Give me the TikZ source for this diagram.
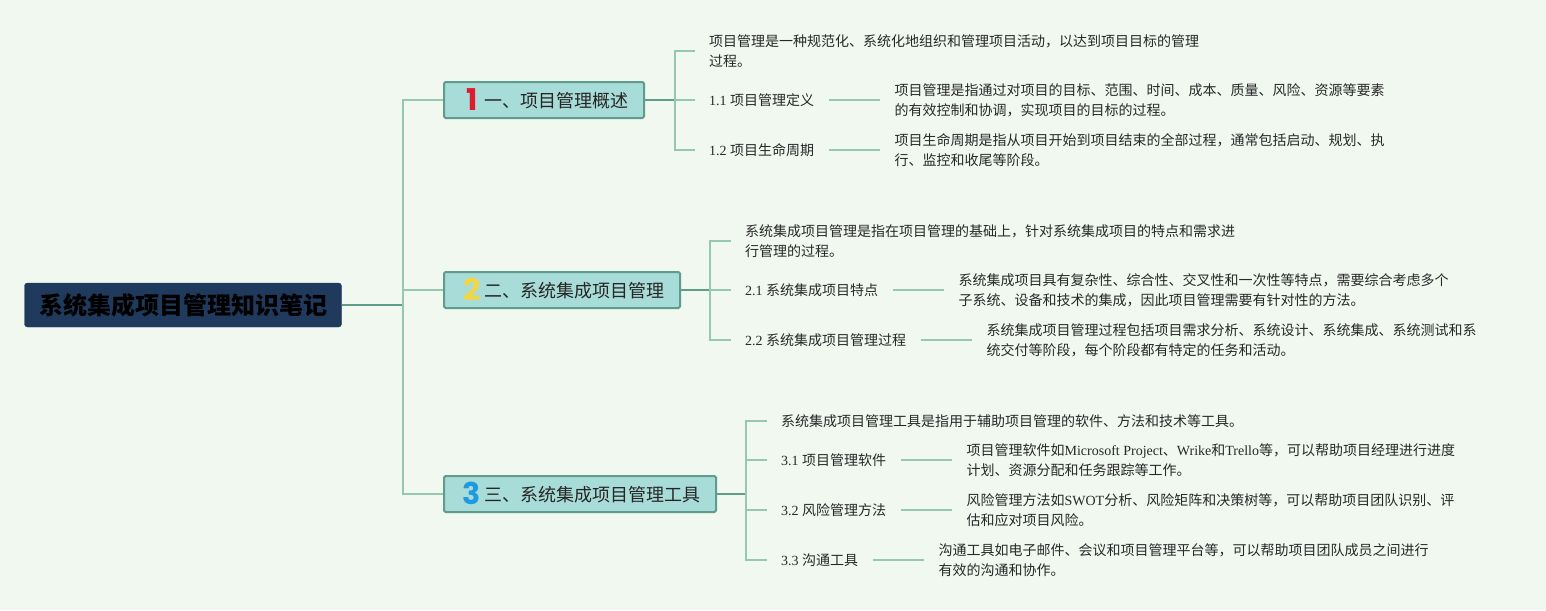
\documentclass[tikz,border=0pt]{standalone}
\usepackage{fontspec}
\setmainfont{Noto Sans CJK SC}
\newfontfamily\enfont{Liberation Serif}
\newfontfamily\numfont{Poppins}
\usetikzlibrary{positioning}
\definecolor{bgColor}{RGB}{240,248,240}
\definecolor{rootColor}{RGB}{31,58,92}
\definecolor{topicColor}{RGB}{168,220,216}
\definecolor{topicBorder}{RGB}{94,156,140}
\definecolor{branchColor}{RGB}{150,200,176}
\definecolor{leafText}{RGB}{40,40,40}
\definecolor{oneColor}{RGB}{222,28,48}
\definecolor{twoColor}{RGB}{244,214,68}
\definecolor{threeColor}{RGB}{30,154,224}
\newcommand{\en}[1]{{\enfont #1}}
\newcommand{\topicnum}[2]{\makebox[24pt][c]{\raisebox{-2.5pt}{\numfont\bfseries\fontsize{30}{30}\selectfont\color{#1}#2}}}
\tikzset{rootbox/.style={fill=rootColor, draw=rootColor, rounded corners=3pt, minimum width=317pt, minimum height=44pt, font=\fontsize{24}{28}\selectfont\bfseries, text=black}}
\tikzset{topic/.style={fill=topicColor, draw=topicBorder, line width=2pt, rounded corners=1.5pt, anchor=west, minimum height=36pt, inner xsep=16pt, inner ysep=0pt, text height=21pt, text depth=6pt, font=\fontsize{18}{22}\selectfont, text=black!85}}
\tikzset{leaf/.style={anchor=west, inner sep=0pt, align=left, font=\fontsize{14}{20}\selectfont, text=leafText}}
\tikzset{trunk/.style={draw=topicBorder, line width=2pt}}
\tikzset{branch/.style={draw=branchColor, line width=1.6pt}}

\begin{document}
\begin{tikzpicture}[x=1pt, y=-1pt, node distance=80pt]
	\fill[bgColor] (0,0) rectangle (1546,610);

	% Nodes
	\node (root) [rootbox] at (183,305) {系统集成项目管理知识笔记};

	\node (t1) [topic] at (443,100) {\topicnum{oneColor}{1}一、项目管理概述};
	\node (t2) [topic] at (443,290) {\topicnum{twoColor}{2}二、系统集成项目管理};
	\node (t3) [topic] at (443,494) {\topicnum{threeColor}{3}三、系统集成项目管理工具};

	\coordinate (rj) at (403,305);
	\coordinate (j1) at (675,100);
	\coordinate (j2) at (710,290);
	\coordinate (j3) at (746,494);

	\node (i1) [leaf] at (709,51) {项目管理是一种规范化、系统化地组织和管理项目活动，以达到项目目标的管理\\过程。};
	\node (l11) [leaf] at (709,100) {\en{1.1 }项目管理定义};
	\node (d11) [leaf, right=of l11] {项目管理是指通过对项目的目标、范围、时间、成本、质量、风险、资源等要素\\的有效控制和协调，实现项目的目标的过程。};
	\node (l12) [leaf] at (709,150) {\en{1.2 }项目生命周期};
	\node (d12) [leaf, right=of l12] {项目生命周期是指从项目开始到项目结束的全部过程，通常包括启动、规划、执\\行、监控和收尾等阶段。};

	\node (i2) [leaf] at (745,241) {系统集成项目管理是指在项目管理的基础上，针对系统集成项目的特点和需求进\\行管理的过程。};
	\node (l21) [leaf] at (745,290) {\en{2.1 }系统集成项目特点};
	\node (d21) [leaf, right=of l21] {系统集成项目具有复杂性、综合性、交叉性和一次性等特点，需要综合考虑多个\\子系统、设备和技术的集成，因此项目管理需要有针对性的方法。};
	\node (l22) [leaf] at (745,340) {\en{2.2 }系统集成项目管理过程};
	\node (d22) [leaf, right=of l22] {系统集成项目管理过程包括项目需求分析、系统设计、系统集成、系统测试和系\\统交付等阶段，每个阶段都有特定的任务和活动。};

	\node (i3) [leaf] at (781,421) {系统集成项目管理工具是指用于辅助项目管理的软件、方法和技术等工具。};
	\node (l31) [leaf] at (781,460) {\en{3.1 }项目管理软件};
	\node (d31) [leaf, right=of l31] {项目管理软件如\en{Microsoft Project}、\en{Wrike}和\en{Trello}等，可以帮助项目经理进行进度\\计划、资源分配和任务跟踪等工作。};
	\node (l32) [leaf] at (781,510) {\en{3.2 }风险管理方法};
	\node (d32) [leaf, right=of l32] {风险管理方法如\en{SWOT}分析、风险矩阵和决策树等，可以帮助项目团队识别、评\\估和应对项目风险。};
	\node (l33) [leaf] at (781,560) {\en{3.3 }沟通工具};
	\node (d33) [leaf, right=of l33] {沟通工具如电子邮件、会议和项目管理平台等，可以帮助项目团队成员之间进行\\有效的沟通和协作。};

	% Connectors
	\draw [trunk] (root.east) -- (rj);
	\foreach \t in {t1,t2,t3}
		\draw [branch] (rj) |- (\t.west);

	\draw [trunk] (t1.east) -- (j1);
	\draw [trunk] (t2.east) -- (j2);
	\draw [trunk] (t3.east) -- (j3);

	\foreach \n in {i1,l11,l12}
		\draw [branch, shorten >=14pt] (j1) |- (\n.west);
	\foreach \n in {i2,l21,l22}
		\draw [branch, shorten >=14pt] (j2) |- (\n.west);
	\foreach \n in {i3,l31,l32,l33}
		\draw [branch, shorten >=14pt] (j3) |- (\n.west);

	\foreach \n in {11,12,21,22,31,32,33}
		\draw [branch, shorten <=15pt, shorten >=14pt] (l\n) -- (d\n);

\end{tikzpicture}
\end{document}
